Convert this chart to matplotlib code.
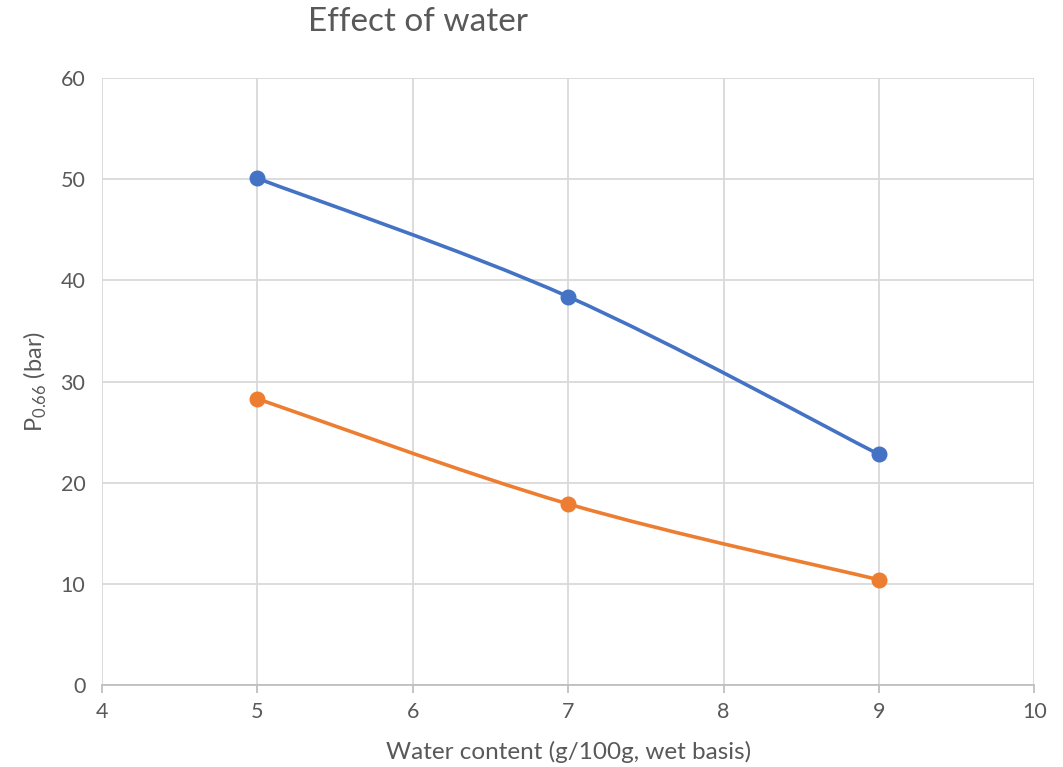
import matplotlib.pyplot as plt
import numpy as np
from matplotlib.path import Path
from matplotlib.patches import PathPatch

water = [5, 7, 9]
series_a = [50.1, 38.4, 22.8]
series_b = [28.3, 17.9, 10.4]
xticks = [4, 5, 6, 7, 8, 9, 10]
yticks = [0, 10, 20, 30, 40, 50, 60]

plt.rcParams['font.family'] = ['Lato', 'DejaVu Sans']


# excel style smoothed line: catmull-rom turned into bezier segments
def smooth_path(x, y):
    pts = np.column_stack([x, y]).astype(float)
    n = len(pts)
    verts = [pts[0]]
    codes = [Path.MOVETO]
    for i in range(n - 1):
        p0 = pts[i - 1] if i > 0 else pts[i]
        p1 = pts[i]
        p2 = pts[i + 1]
        p3 = pts[i + 2] if i + 2 < n else pts[i + 1]
        c1 = p1 + (p2 - p0) / 6.0
        c2 = p2 - (p3 - p1) / 6.0
        verts += [c1, c2, p2]
        codes += [Path.CURVE4] * 3
    return Path(verts, codes)


fig = plt.figure(figsize=(10.63, 7.67), dpi=100)
ax = fig.add_axes([0.096, 0.107, 0.877, 0.791])

for ys, col in [(series_a, '#4472C4'), (series_b, '#ED7D31')]:
    ax.add_patch(PathPatch(smooth_path(water, ys), fill=False, edgecolor=col,
                           lw=2.6, capstyle='round', zorder=3))
    ax.plot(water, ys, 'o', color=col, markersize=10.5, zorder=4)

ax.set_xlim(4, 10)
ax.set_ylim(0, 60)
ax.set_xticks(xticks)
ax.set_yticks(yticks)
ax.grid(True, color='#D9D9D9', lw=1.3)
ax.set_axisbelow(True)
for s in ['top', 'right', 'left']:
    ax.spines[s].set_visible(False)
ax.spines['bottom'].set_color('#BFBFBF')
ax.spines['bottom'].set_linewidth(1.3)
ax.tick_params(axis='x', colors='#BFBFBF', length=6, width=1.3, labelcolor='#595959', labelsize=15.5, pad=6)
ax.tick_params(axis='y', length=0, labelcolor='#595959', labelsize=15.5, pad=12)

ax.set_xlabel('Water content (g/100g, wet basis)', fontsize=17.5, color='#595959', labelpad=14)
ax.set_ylabel(r'P$_{\mathregular{0.66}}$ (bar)', fontsize=17, color='#595959', labelpad=8)
fig.text(0.393, 0.971, 'Effect of water', fontsize=24, color='#595959', ha='center', va='center')

plt.savefig('out.png', dpi=100)
